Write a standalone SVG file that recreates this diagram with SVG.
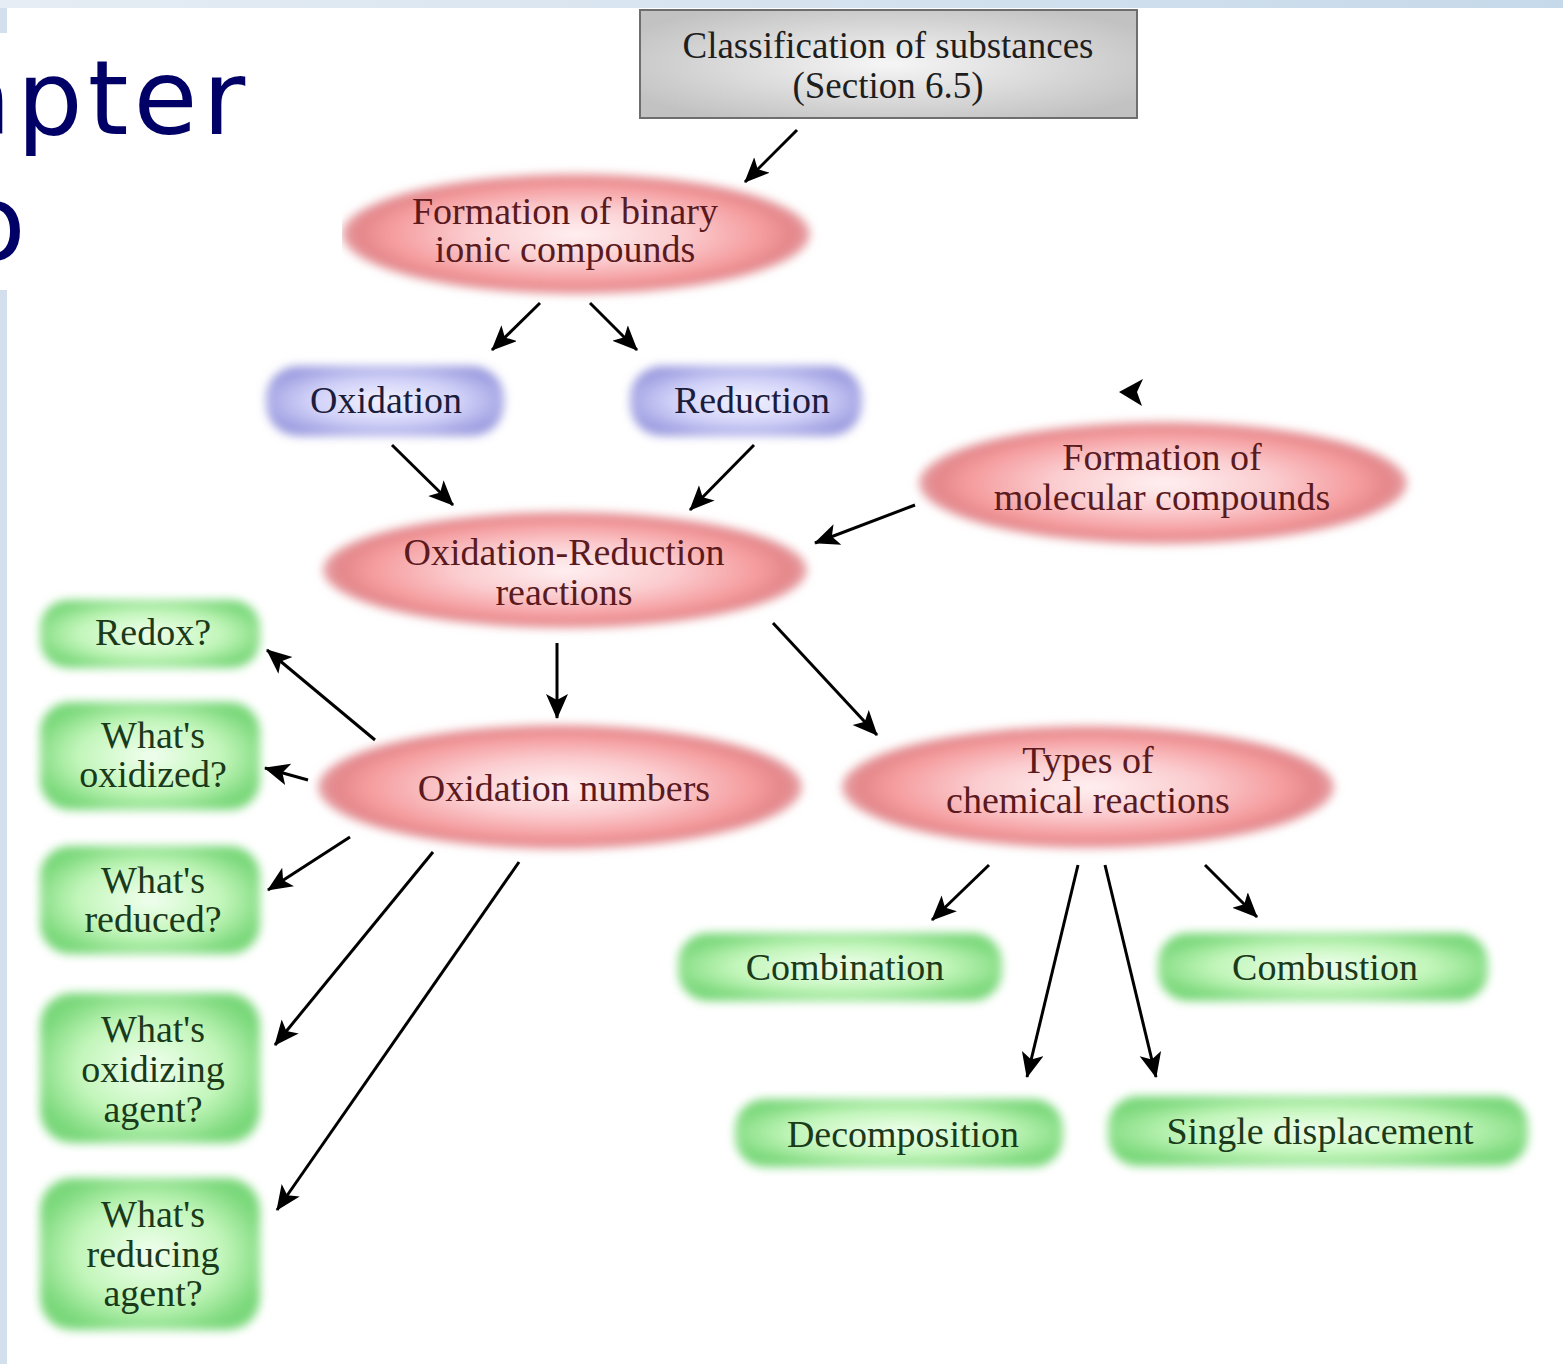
<svg xmlns="http://www.w3.org/2000/svg" width="1563" height="1364" viewBox="0 0 1563 1364">
<style>
.pt{font-family:"Liberation Serif","Times New Roman",serif;font-size:38px;fill:#5a1a1e;text-anchor:middle}
.bt{font-family:"Liberation Serif","Times New Roman",serif;font-size:38px;fill:#1c1c3c;text-anchor:middle}
.gt{font-family:"Liberation Serif","Times New Roman",serif;font-size:38px;fill:#1a3a1a;text-anchor:middle}
.tt{font-family:"Liberation Serif","Times New Roman",serif;font-size:37px;fill:#1e1e1e;text-anchor:middle}
.big{font-family:"DejaVu Sans","Open Sans",sans-serif;font-size:104px;fill:#000066;letter-spacing:5px}
.pk{fill:url(#gPink);filter:url(#blur)}
.bl{fill:url(#gBlue);filter:url(#blur)}
.gr{fill:url(#gGreen);filter:url(#blur)}
.cn line{stroke:#000;stroke-width:3;marker-end:url(#ah)}
</style>
<defs>
<filter id="blur" x="-10%" y="-20%" width="120%" height="140%"><feGaussianBlur stdDeviation="5"/></filter>
<radialGradient id="gPink" cx="0.5" cy="0.5" r="0.5">
<stop offset="0" stop-color="#fff1f2"/>
<stop offset="0.45" stop-color="#fbcdd0"/>
<stop offset="0.8" stop-color="#f59c9e"/>
<stop offset="0.93" stop-color="#e4868a"/>
<stop offset="1" stop-color="#e6a2a6"/>
</radialGradient>
<radialGradient id="gBlue" cx="0.5" cy="0.5" r="0.55">
<stop offset="0" stop-color="#f4f4ff"/>
<stop offset="0.6" stop-color="#cfcff8"/>
<stop offset="1" stop-color="#9c9ce0"/>
</radialGradient>
<radialGradient id="gGreen" cx="0.5" cy="0.5" r="0.55">
<stop offset="0" stop-color="#f2fff0"/>
<stop offset="0.6" stop-color="#c2f6ba"/>
<stop offset="1" stop-color="#7ad87a"/>
</radialGradient>
<radialGradient id="gGray" cx="0.5" cy="0.5" r="0.6">
<stop offset="0" stop-color="#f6f6f6"/>
<stop offset="1" stop-color="#c2c2c2"/>
</radialGradient>
<linearGradient id="gBand" x1="0" y1="0" x2="1" y2="0">
<stop offset="0" stop-color="#e6edf4"/>
<stop offset="1" stop-color="#c6d9ea"/>
</linearGradient>
<marker id="ah" markerUnits="userSpaceOnUse" markerWidth="28" markerHeight="24" refX="24" refY="11" orient="auto">
<path d="M0,0 L25,11 L0,22 L6,11 z" fill="#000"/>
</marker>
</defs>

<rect x="0" y="0" width="1563" height="1364" fill="#fff"/>
<rect x="0" y="0" width="1563" height="8" fill="url(#gBand)"/>
<rect x="0" y="8" width="7" height="1356" fill="#d3dfec"/>

<g id="node-binary"><ellipse class="pk" cx="576" cy="234" rx="234" ry="60"/>
<text class="pt" x="565" y="224">Formation of binary</text><text class="pt" x="565" y="262">ionic compounds</text></g>

<rect x="0" y="33" width="342" height="257" fill="#fff"/>
<text class="big" x="-52" y="134">apter</text>
<text class="big" x="-38" y="260">o</text>

<g id="node-classification"><rect x="640" y="10" width="497" height="108" fill="url(#gGray)" stroke="#6e6e6e" stroke-width="2"/>
<text class="tt" x="888" y="58">Classification of substances</text><text class="tt" x="888" y="98">(Section 6.5)</text></g>

<g id="node-oxidation"><rect class="bl" x="266" y="366" width="238" height="70" rx="32"/>
<text class="bt" x="386" y="413">Oxidation</text></g>
<g id="node-reduction"><rect class="bl" x="630" y="366" width="232" height="70" rx="32"/>
<text class="bt" x="752" y="413">Reduction</text></g>

<g id="node-redox"><ellipse class="pk" cx="565" cy="570" rx="242" ry="58"/>
<text class="pt" x="564" y="565">Oxidation-Reduction</text><text class="pt" x="564" y="605">reactions</text></g>
<g id="node-molecular"><ellipse class="pk" cx="1163" cy="483" rx="244" ry="61"/>
<text class="pt" x="1162" y="470">Formation of</text><text class="pt" x="1162" y="510">molecular compounds</text></g>
<g id="node-oxnum"><ellipse class="pk" cx="560" cy="787" rx="242" ry="62"/>
<text class="pt" x="564" y="801">Oxidation numbers</text></g>
<g id="node-types"><ellipse class="pk" cx="1088" cy="787" rx="246" ry="61"/>
<text class="pt" x="1088" y="773">Types of</text><text class="pt" x="1088" y="813">chemical reactions</text></g>

<g id="node-q1"><rect class="gr" x="40" y="600" width="220" height="68" rx="28"/>
<text class="gt" x="153" y="645">Redox?</text></g>
<g id="node-q2"><rect class="gr" x="40" y="702" width="220" height="108" rx="30"/>
<text class="gt" x="153" y="748">What's</text><text class="gt" x="153" y="787">oxidized?</text></g>
<g id="node-q3"><rect class="gr" x="40" y="846" width="220" height="108" rx="30"/>
<text class="gt" x="153" y="893">What's</text><text class="gt" x="153" y="932">reduced?</text></g>
<g id="node-q4"><rect class="gr" x="40" y="993" width="220" height="150" rx="32"/>
<text class="gt" x="153" y="1042">What's</text><text class="gt" x="153" y="1082">oxidizing</text><text class="gt" x="153" y="1122">agent?</text></g>
<g id="node-q5"><rect class="gr" x="40" y="1178" width="220" height="152" rx="32"/>
<text class="gt" x="153" y="1227">What's</text><text class="gt" x="153" y="1267">reducing</text><text class="gt" x="153" y="1306">agent?</text></g>

<g id="node-combination"><rect class="gr" x="678" y="933" width="324" height="68" rx="30"/>
<text class="gt" x="845" y="980">Combination</text></g>
<g id="node-combustion"><rect class="gr" x="1158" y="933" width="330" height="68" rx="30"/>
<text class="gt" x="1325" y="980">Combustion</text></g>
<g id="node-decomposition"><rect class="gr" x="735" y="1099" width="328" height="68" rx="30"/>
<text class="gt" x="903" y="1147">Decomposition</text></g>
<g id="node-single"><rect class="gr" x="1108" y="1096" width="420" height="70" rx="30"/>
<text class="gt" x="1320" y="1144">Single displacement</text></g>

<g id="connectors" class="cn">
<line x1="797" y1="130" x2="745" y2="182"/>
<line x1="540" y1="303" x2="492" y2="350"/>
<line x1="590" y1="303" x2="637" y2="350"/>
<line x1="392" y1="445" x2="453" y2="505"/>
<line x1="754" y1="445" x2="690" y2="510"/>
<line x1="915" y1="505" x2="815" y2="543"/>
<line x1="557" y1="643" x2="557" y2="718"/>
<line x1="773" y1="623" x2="877" y2="735"/>
<line x1="375" y1="740" x2="267" y2="650"/>
<line x1="308" y1="780" x2="265" y2="768"/>
<line x1="350" y1="837" x2="268" y2="890"/>
<line x1="433" y1="852" x2="275" y2="1045"/>
<line x1="519" y1="862" x2="277" y2="1210"/>
<line x1="989" y1="865" x2="932" y2="920"/>
<line x1="1078" y1="865" x2="1027" y2="1077"/>
<line x1="1105" y1="865" x2="1156" y2="1077"/>
<line x1="1205" y1="865" x2="1257" y2="917"/>
<path d="M1119,392 L1143,379 L1137,392 L1142,406 z" fill="#000"/>
</g>
</svg>
